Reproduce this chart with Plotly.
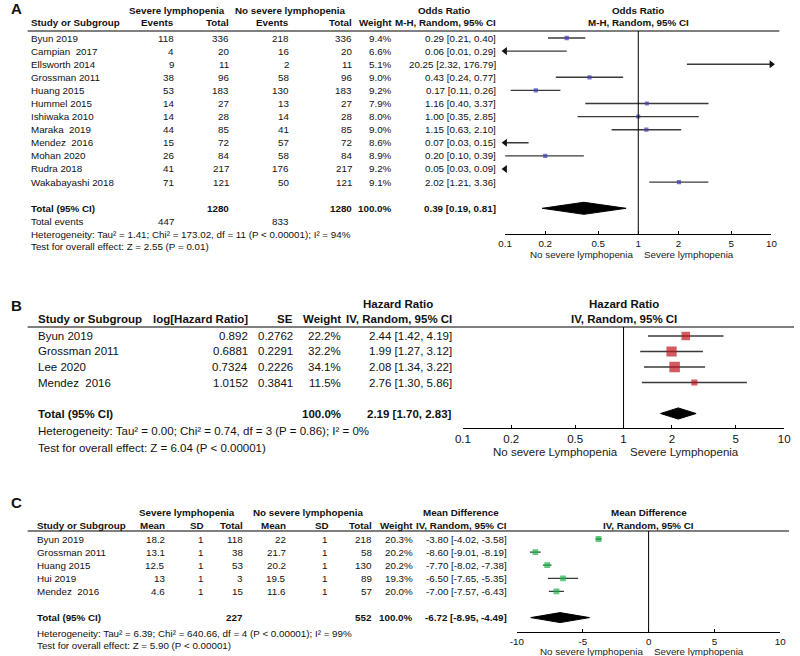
import math
import plotly.graph_objects as go

W, H = 800, 656
FONT = "Liberation Sans, Arial, Helvetica, sans-serif"
INK = "#111111"

# ---------------- A: odds ratio, severe vs no severe lymphopenia ----------------
a_studies = ["Byun 2019", "Campian\u00a0 2017", "Ellsworth 2014", "Grossman 2011",
             "Huang 2015", "Hummel 2015", "Ishiwaka 2010", "Maraka\u00a0 2019",
             "Mendez\u00a0 2016", "Mohan 2020", "Rudra 2018", "Wakabayashi 2018"]
a_ev_sev = [118, 4, 9, 38, 53, 14, 14, 44, 15, 26, 41, 71]
a_tot_sev = [336, 20, 11, 96, 183, 27, 28, 85, 72, 84, 217, 121]
a_ev_no = [218, 16, 2, 58, 130, 13, 14, 41, 57, 58, 176, 50]
a_tot_no = [336, 20, 11, 96, 183, 27, 28, 85, 72, 84, 217, 121]
a_weight = [9.4, 6.6, 5.1, 9.0, 9.2, 7.9, 8.0, 9.0, 8.6, 8.9, 9.2, 9.1]
a_or = [0.29, 0.06, 20.25, 0.43, 0.17, 1.16, 1.00, 1.15, 0.07, 0.20, 0.05, 2.02]
a_lo = [0.21, 0.01, 2.32, 0.24, 0.11, 0.40, 0.35, 0.63, 0.03, 0.10, 0.03, 1.21]
a_hi = [0.40, 0.29, 176.79, 0.77, 0.26, 3.37, 2.85, 2.10, 0.15, 0.39, 0.09, 3.36]
a_totals = [1280, 1280]
a_events = [447, 833]
a_pooled = [0.39, 0.19, 0.81]
a_het = "Heterogeneity: Tau\u00b2 = 1.41; Chi\u00b2 = 173.02, df = 11 (P < 0.00001); I\u00b2 = 94%"
a_test = "Test for overall effect: Z = 2.55 (P = 0.01)"

# ---------------- B: hazard ratio ----------------
b_studies = ["Byun 2019", "Grossman 2011", "Lee 2020", "Mendez\u00a0 2016"]
b_loghr = [0.892, 0.6881, 0.7324, 1.0152]
b_se = [0.2762, 0.2291, 0.2226, 0.3841]
b_weight = [22.2, 32.2, 34.1, 11.5]
b_hr = [2.44, 1.99, 2.08, 2.76]
b_lo = [1.42, 1.27, 1.34, 1.30]
b_hi = [4.19, 3.12, 3.22, 5.86]
b_pooled = [2.19, 1.70, 2.83]
b_het = "Heterogeneity: Tau\u00b2 = 0.00; Chi\u00b2 = 0.74, df = 3 (P = 0.86); I\u00b2 = 0%"
b_test = "Test for overall effect: Z = 6.04 (P < 0.00001)"

# ---------------- C: mean difference ----------------
c_studies = ["Byun 2019", "Grossman 2011", "Huang 2015", "Hui 2019", "Mendez\u00a0 2016"]
c_mean_sev = [18.2, 13.1, 12.5, 13, 4.6]
c_sd_sev = [1, 1, 1, 1, 1]
c_tot_sev = [118, 38, 53, 3, 15]
c_mean_no = [22, 21.7, 20.2, 19.5, 11.6]
c_sd_no = [1, 1, 1, 1, 1]
c_tot_no = [218, 58, 130, 89, 57]
c_weight = [20.3, 20.2, 20.2, 19.3, 20.0]
c_md = [-3.80, -8.60, -7.70, -6.50, -7.00]
c_lo = [-4.02, -9.01, -8.02, -7.65, -7.57]
c_hi = [-3.58, -8.19, -7.38, -5.35, -6.43]
c_totals = [227, 552]
c_pooled = [-6.72, -8.95, -4.49]
c_het = "Heterogeneity: Tau\u00b2 = 6.39; Chi\u00b2 = 640.66, df = 4 (P < 0.00001); I\u00b2 = 99%"
c_test = "Test for overall effect: Z = 5.90 (P < 0.00001)"

ratio_ticks = [0.1, 0.2, 0.5, 1, 2, 5, 10]
md_ticks = [-10, -5, 0, 5, 10]

# pixel geometry of each panel: first row, row step, header rule, axis line, plot x span
PANEL = {
    "A": dict(r0=38, step=13.1, head=31, axis=234, x0=506, x1=777, xa="x", ya="y"),
    "B": dict(r0=336, step=15.5, head=327, axis=428, x0=463, x1=790, xa="x2", ya="y2"),
    "C": dict(r0=539, step=13.1, head=531, axis=632, x0=518, x1=786, xa="x3", ya="y3"),
}


def row(p, i):
    return PANEL[p]["r0"] + PANEL[p]["step"] * i


ann = []


def put(x, y, s, anchor="left", size=9.8, bold=False, xref="paper", color=INK):
    ann.append(dict(x=x / W if xref == "paper" else x, y=1 - y / H,
                    xref=xref, yref="paper", text=f"<b>{s}</b>" if bold else s,
                    showarrow=False, xanchor=anchor, yanchor="middle",
                    borderpad=0, font=dict(family=FONT, size=size, color=color)))


def ci(e, lo, hi, fmt="{:.2f}"):
    return f"{fmt.format(e)} [{fmt.format(lo)}, {fmt.format(hi)}]"


fig = go.Figure()


def forest(p, est, lo, hi, weight, colour, k, amin, amax, line_w, pooled, prow, half):
    xa, ya = PANEL[p]["xa"], PANEL[p]["ya"]
    xs, ys = [], []
    for i in range(len(est)):
        xs += [lo[i], hi[i], None]
        ys += [i, i, None]
    fig.add_trace(go.Scatter(x=xs, y=ys, mode="lines", xaxis=xa, yaxis=ya,
                             line=dict(color="#3a3a3a", width=line_w),
                             hoverinfo="skip", showlegend=False))
    fig.add_trace(go.Scatter(x=est, y=list(range(len(est))), mode="markers",
                             xaxis=xa, yaxis=ya, showlegend=False,
                             marker=dict(symbol="square", color=colour,
                                         size=[k * math.sqrt(w) for w in weight],
                                         line=dict(width=0))))
    ax, ay, sym = [], [], []
    for i in range(len(est)):
        if lo[i] < amin:
            ax.append(amin); ay.append(i); sym.append("triangle-left")
        if hi[i] > amax:
            ax.append(amax); ay.append(i); sym.append("triangle-right")
    if ax:
        fig.add_trace(go.Scatter(x=ax, y=ay, mode="markers", xaxis=xa, yaxis=ya,
                                 cliponaxis=False, showlegend=False,
                                 marker=dict(symbol=sym, color="#111", size=7)))
    e, l, h = pooled
    fig.add_trace(go.Scatter(x=[l, e, h, e, l], y=[prow, prow - half, prow, prow + half, prow],
                             mode="lines", fill="toself", fillcolor="#000",
                             line=dict(color="#000", width=1), xaxis=xa, yaxis=ya,
                             hoverinfo="skip", showlegend=False))


forest("A", a_or, a_lo, a_hi, a_weight, "#3c3cb4", 1.4, 0.1, 10, 1.4, a_pooled, 13, 0.46)
forest("B", b_hr, b_lo, b_hi, b_weight, "#c0161b", 1.8, 0.1, 10, 1.4, b_pooled, 5, 0.36)
forest("C", c_md, c_lo, c_hi, c_weight, "#1fb34a", 1.3, -10, 10, 1.3, c_pooled, 6, 0.38)

# ---------------- table text: A ----------------
put(2, 8, "A", size=15, bold=True)
put(172, 10, "Severe lymphopenia", "center", bold=True)
put(288, 10, "No severe lymphopenia", "center", bold=True)
put(444, 10, "Odds Ratio", "center", bold=True)
put(0, 10, "Odds Ratio", "center", bold=True, xref="x")          # log axis: 10**0 = 1
put(22, 23, "Study or Subgroup", bold=True)
for x, s in [(170, "Events"), (226, "Total"), (287, "Events"), (351, "Total"),
             (392, "Weight"), (498, "M-H, Random, 95% CI")]:
    put(x, 23, s, "right", bold=True)
put(0, 23, "M-H, Random, 95% CI", "center", bold=True, xref="x")
for i, name in enumerate(a_studies):
    y = row("A", i)
    put(22, y, name)
    put(170, y, str(a_ev_sev[i]), "right")
    put(226, y, str(a_tot_sev[i]), "right")
    put(287, y, str(a_ev_no[i]), "right")
    put(351, y, str(a_tot_no[i]), "right")
    put(392, y, f"{a_weight[i]:.1f}%", "right")
    put(498, y, ci(a_or[i], a_lo[i], a_hi[i]), "right")
y = row("A", 13)
put(22, y, "Total (95% CI)", bold=True)
put(226, y, str(a_totals[0]), "right", bold=True)
put(351, y, str(a_totals[1]), "right", bold=True)
put(392, y, "100.0%", "right", bold=True)
put(498, y, ci(*a_pooled), "right", bold=True)
y = row("A", 14)
put(22, y, "Total events")
put(170, y, str(a_events[0]), "right")
put(287, y, str(a_events[1]), "right")
put(22, row("A", 15), a_het)
put(22, row("A", 16) - 1, a_test)
put(637, 255, "No severe lymphopenia", "right", color="#222")
put(646, 255, "Severe lymphopenia", "left", color="#222")

# ---------------- table text: B ----------------
SB = 11.5
put(2, 305, "B", size=15, bold=True)
put(397, 304, "Hazard Ratio", "center", SB, True)
put(0, 304, "Hazard Ratio", "center", SB, True, xref="x2")
put(30, 319, "Study or Subgroup", size=SB, bold=True)
for x, s in [(245, "log[Hazard Ratio]"), (291, "SE"), (340, "Weight"),
             (453, "IV, Random, 95% CI")]:
    put(x, 319, s, "right", SB, True)
put(0, 319, "IV, Random, 95% CI", "center", SB, True, xref="x2")
for i, name in enumerate(b_studies):
    y = row("B", i)
    put(30, y, name, size=SB)
    put(245, y, f"{b_loghr[i]:g}", "right", SB)
    put(291, y, f"{b_se[i]:g}", "right", SB)
    put(340, y, f"{b_weight[i]:.1f}%", "right", SB)
    put(453, y, ci(b_hr[i], b_lo[i], b_hi[i]), "right", SB)
y = row("B", 5)
put(30, y, "Total (95% CI)", size=SB, bold=True)
put(340, y, "100.0%", "right", SB, True)
put(453, y, ci(*b_pooled), "right", SB, True)
put(30, 431, b_het, size=SB)
put(30, 448, b_test, size=SB)
put(622, 452, "No severe Lymphopenia", "right", SB, color="#222")
put(632, 452, "Severe Lymphopenia", "left", SB, color="#222")

# ---------------- table text: C ----------------
put(2, 502, "C", size=15, bold=True)
put(182, 512, "Severe lymphopenia", "center", bold=True)
put(306, 512, "No severe lymphopenia", "center", bold=True)
put(461, 512, "Mean Difference", "center", bold=True)
put(0, 512, "Mean Difference", "center", bold=True, xref="x3")
put(29, 525, "Study or Subgroup", bold=True)
for x, s in [(161, "Mean"), (201, "SD"), (240, "Total"), (284, "Mean"), (328, "SD"),
             (372, "Total"), (413, "Weight"), (509, "IV, Random, 95% CI")]:
    put(x, 525, s, "right", bold=True)
put(0, 525, "IV, Random, 95% CI", "center", bold=True, xref="x3")
for i, name in enumerate(c_studies):
    y = row("C", i)
    put(29, y, name)
    put(161, y, f"{c_mean_sev[i]:g}", "right")
    put(199, y, str(c_sd_sev[i]), "right")
    put(240, y, str(c_tot_sev[i]), "right")
    put(284, y, f"{c_mean_no[i]:g}", "right")
    put(326, y, str(c_sd_no[i]), "right")
    put(372, y, str(c_tot_no[i]), "right")
    put(413, y, f"{c_weight[i]:.1f}%", "right")
    put(509, y, ci(c_md[i], c_lo[i], c_hi[i]), "right")
y = row("C", 6)
put(29, y, "Total (95% CI)", bold=True)
put(240, y, str(c_totals[0]), "right", bold=True)
put(372, y, str(c_totals[1]), "right", bold=True)
put(413, y, "100.0%", "right", bold=True)
put(509, y, ci(*c_pooled), "right", bold=True)
put(29, 633, c_het)
put(29, 645, c_test)
put(647, 651, "No severe lymphopenia", "right", color="#222")
put(656, 651, "Severe lymphopenia", "left", color="#222")

# ---------------- axes ----------------
layout_axes = {}
shapes = []
for n, (p, tick, kind, rng, tsize, null) in enumerate([
        ("A", ratio_ticks, "log", [-1, 1], 9.8, 1),
        ("B", ratio_ticks, "log", [-1, 1], SB, 1),
        ("C", md_ticks, "linear", [-10, 10], 9.8, 0)]):
    g = PANEL[p]
    sfx = "" if n == 0 else str(n + 1)
    common = dict(type=kind, range=rng, tickvals=tick, tickwidth=1, tickcolor="#000",
                  showgrid=False, zeroline=False)
    # labelled axis, ticks pointing up
    layout_axes["xaxis" + sfx] = dict(
        domain=[g["x0"] / W, g["x1"] / W], anchor="y" + sfx, ticks="inside", ticklen=3,
        ticktext=[f"{t:g}" for t in tick], showline=True, linecolor="#000", linewidth=1,
        tickfont=dict(family=FONT, size=tsize, color=INK), **common)
    # twin axis drawing the lower half of each tick so they cross the line
    layout_axes[f"xaxis{n + 4}"] = dict(
        overlaying="x" + sfx, anchor="y" + sfx, side="bottom", ticks="outside",
        ticklen=3, showticklabels=False, showline=False, **common)
    layout_axes["yaxis" + sfx] = dict(
        domain=[1 - g["axis"] / H, 1 - g["head"] / H], anchor="x" + sfx,
        range=[(g["axis"] - g["r0"]) / g["step"], (g["head"] - g["r0"]) / g["step"]],
        visible=False, showgrid=False, zeroline=False)
    shapes.append(dict(type="line", xref="x" + sfx, yref=f"y{sfx} domain",
                       x0=null, x1=null, y0=0, y1=1, line=dict(color="#000", width=1)))

# header rules
for y, x0, x1 in [(31, 20, 785), (327, 20, 800), (531, 20, 795)]:
    shapes.append(dict(type="line", xref="paper", yref="paper", x0=x0 / W, x1=x1 / W,
                       y0=1 - y / H, y1=1 - y / H, line=dict(color="#000", width=1.2)))

fig.update_layout(width=W, height=H, margin=dict(l=0, r=0, t=0, b=0),
                  paper_bgcolor="white", plot_bgcolor="white", showlegend=False,
                  annotations=ann, shapes=shapes, **layout_axes)

# the default page keeps an 8px body margin; drop it so the figure fills the window
fig.write_html("out.html", config={"displayModeBar": False},
               post_script="document.body.style.margin='0';")
